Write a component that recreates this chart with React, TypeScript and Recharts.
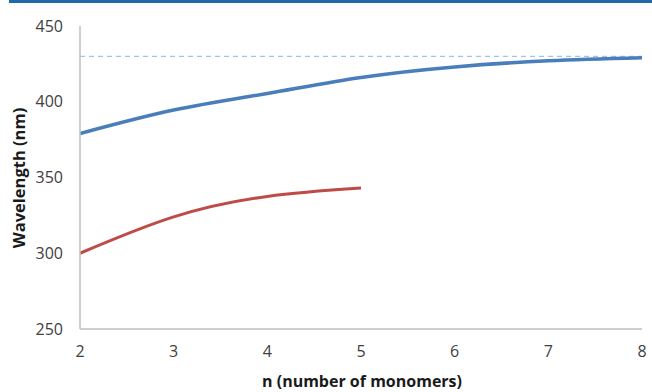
import React from 'react';
import { LineChart, Line, XAxis, YAxis, ReferenceLine, Label } from 'recharts';

const nValues = [2, 3, 4, 5, 6, 7, 8];
const blueValues = [379, 394.5, 405.5, 416, 423, 427, 429];
const redN = [2, 3, 4, 5];
const redValues = [300, 324, 337.5, 343];
const limitValue = 430;
const xTicks = [2, 3, 4, 5, 6, 7, 8];
const yTicks = [250, 300, 350, 400, 450];

const blueData = nValues.map((n, i) => ({ n, v: blueValues[i] }));
const redData = redN.map((n, i) => ({ n, v: redValues[i] }));

const FONT = '"Open Sans", "Liberation Sans", sans-serif';

export default function App() {
  return (
    <div style={{ position: 'absolute', left: 0, top: 0, width: 652, height: 392, background: '#fff' }}>
      <div style={{ position: 'absolute', left: 9, top: 0, width: 643, height: 3, background: '#1f68a9' }} />
      <div style={{ position: 'absolute', left: 0, top: 0 }}>
        <LineChart width={652} height={392} margin={{ top: 26, right: 10, left: 0, bottom: 33 }}>
          <XAxis
            type="number"
            dataKey="n"
            domain={[2, 8]}
            ticks={xTicks}
            allowDataOverflow
            height={30}
            tickLine={false}
            tickSize={0}
            tickMargin={17}
            axisLine={{ stroke: '#bfbfbf', strokeWidth: 1.5 }}
            tick={{ fill: '#404040', fontSize: 16, fontFamily: FONT }}
          >
            <Label
              content={() => (
                <text x={362} y={387} textAnchor="middle" fontFamily={FONT} fontWeight="bold" fontSize={16} fill="#1a1a1a">
                  n (number of monomers)
                </text>
              )}
            />
          </XAxis>
          <YAxis
            type="number"
            domain={[250, 450]}
            ticks={yTicks}
            width={80}
            tickLine={false}
            tickSize={0}
            tickMargin={17}
            axisLine={{ stroke: '#bfbfbf', strokeWidth: 1.5 }}
            tick={{ fill: '#404040', fontSize: 16, fontFamily: FONT }}
          >
            <Label
              content={() => (
                <text
                  x={25}
                  y={178}
                  transform="rotate(-90 25 178)"
                  textAnchor="middle"
                  fontFamily={FONT}
                  fontWeight="bold"
                  fontSize={16.5}
                  fill="#1a1a1a"
                >
                  Wavelength (nm)
                </text>
              )}
            />
          </YAxis>
          <ReferenceLine y={limitValue} stroke="#8db3e2" strokeWidth={1} strokeDasharray="5 4" />
          <Line
            data={blueData}
            dataKey="v"
            type="natural"
            stroke="#4a7ebb"
            strokeWidth={3.5}
            dot={false}
            isAnimationActive={false}
          />
          <Line
            data={redData}
            dataKey="v"
            type="natural"
            stroke="#be4b48"
            strokeWidth={3}
            dot={false}
            isAnimationActive={false}
          />
        </LineChart>
      </div>
    </div>
  );
}
